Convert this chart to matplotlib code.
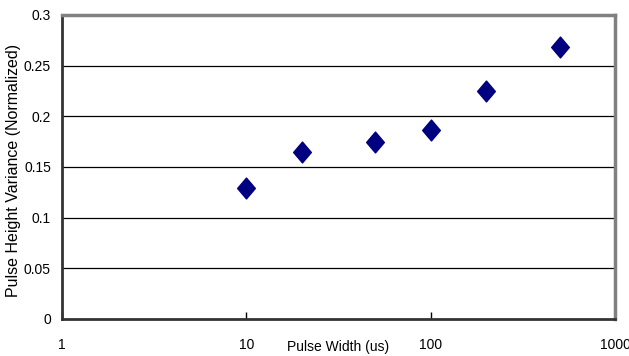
import matplotlib
matplotlib.use("Agg")
import matplotlib.pyplot as plt
from matplotlib.path import Path

plt.rcParams['font.family'] = ['Liberation Sans', 'DejaVu Sans']

pulse_width = [10, 20, 50, 100, 200, 500]
variance = [0.129, 0.165, 0.175, 0.187, 0.225, 0.268]
y_ticks = [0, 0.05, 0.1, 0.15, 0.2, 0.25, 0.3]
y_tick_labels = ['0', '0.05', '0.1', '0.15', '0.2', '0.25', '0.3']
x_ticks = [1, 10, 100, 1000]
x_tick_labels = ['1', '10', '100', '1000']

fig = plt.figure(figsize=(6.29, 3.56), dpi=100)
ax = fig.add_axes([62/629, 1-319/356, (615-62)/629, (319-15)/356])

diamond = Path([(0, 1), (0.85, 0), (0, -1), (-0.85, 0), (0, 1)],
               [Path.MOVETO, Path.LINETO, Path.LINETO, Path.LINETO, Path.CLOSEPOLY])
ax.plot(pulse_width, variance, linestyle='none', marker=diamond, markersize=15,
        color='#000080', markeredgecolor='#000080', zorder=3)

ax.set_xscale('log')
ax.set_xlim(1, 1000)
ax.set_ylim(0, 0.3)
ax.set_yticks(y_ticks)
ax.set_yticklabels(y_tick_labels)
ax.set_xticks(x_ticks)
ax.set_xticklabels(x_tick_labels)
ax.xaxis.set_minor_locator(matplotlib.ticker.NullLocator())

for y in y_ticks[1:-1]:
    ax.axhline(y, color='black', linewidth=0.9, zorder=1)

ax.tick_params(axis='x', direction='in', length=5, width=1, pad=14, labelsize=10)
ax.tick_params(axis='y', length=0, pad=8, labelsize=10)

ax.spines['top'].set_color('#808080')
ax.spines['top'].set_linewidth(2.5)
ax.spines['right'].set_color('#808080')
ax.spines['right'].set_linewidth(2.5)
ax.spines['left'].set_color('#333333')
ax.spines['left'].set_linewidth(2)
ax.spines['bottom'].set_color('#333333')
ax.spines['bottom'].set_linewidth(2)

ax.set_xlabel('Pulse Width (us)', fontsize=10, va='center')
ax.xaxis.set_label_coords(0.499, -0.092)
ax.set_ylabel('Pulse Height Variance (Normalized)', fontsize=11.5, va='center')
ax.yaxis.set_label_coords(-0.087, 0.49)

fig.savefig('out.png', dpi=100, facecolor='white')
